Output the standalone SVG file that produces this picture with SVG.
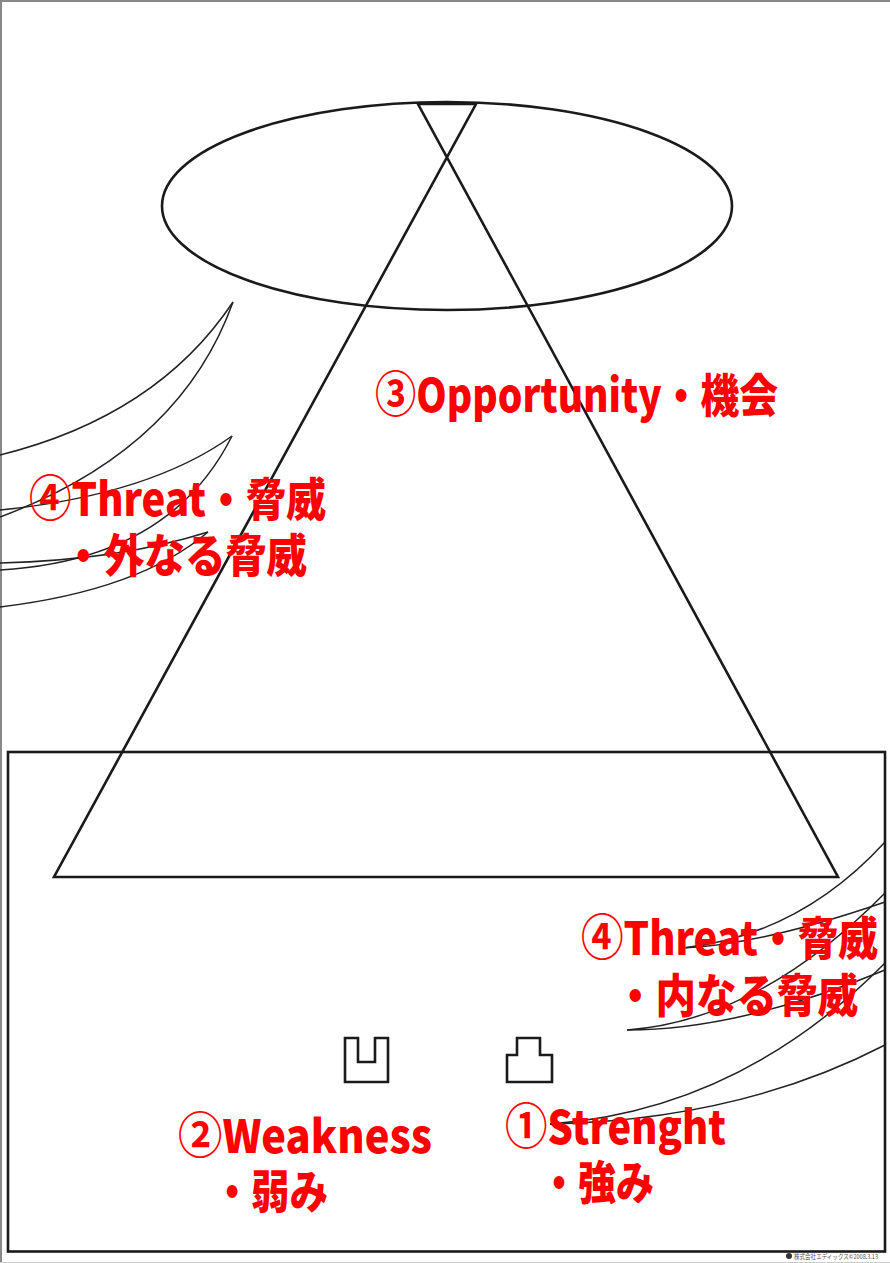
<svg xmlns="http://www.w3.org/2000/svg" width="890" height="1263" viewBox="0 0 890 1263">
  <style>
    .frame { fill: none; stroke: #1a1a1a; stroke-width: 2.6; }
    .shape { fill: none; stroke: #1a1a1a; stroke-width: 2.6; stroke-linejoin: miter; }
    .wind { fill: none; stroke: #222; stroke-width: 1.5; }
    .label { font-family: "Noto Sans CJK JP", "Noto Sans", sans-serif; font-weight: 900; font-size: 46px; fill: #ff0000; }
    .num { font-size: 49px; font-weight: 700; }
    .foot { font-family: "Noto Sans CJK JP", sans-serif; font-size: 6.5px; fill: #555; }
  </style>

  <rect x="0" y="0" width="890" height="1263" fill="#fff"/>
  <!-- page edge -->
  <rect x="0" y="0" width="2" height="1263" fill="#888"/>
  <rect x="0" y="0" width="890" height="2" fill="#888"/>
  <rect x="0" y="1262" width="890" height="1" fill="#ccc"/>

  <g id="outer-box">
    <rect class="frame" x="8" y="752" width="877" height="499.5"/>
  </g>

  <g id="sky">
    <ellipse class="shape" cx="447" cy="206" rx="285" ry="104"/>
  </g>

  <g id="pyramid">
    <path class="shape" d="M418,104 H476 L54,877 H838 Z"/>
  </g>

  <g id="weak-block">
    <path class="shape" d="M345,1038 H358 V1062 H375 V1038 H388 V1082 H345 Z"/>
  </g>
  <g id="strong-block">
    <path class="shape" d="M517,1038 H540 V1055 H552 V1082 H507 V1055 H517 Z"/>
  </g>

  <g id="connectors">
    <!-- outer wind, left -->
    <path class="wind" d="M233,302 Q157,416 0,455"/>
    <path class="wind" d="M233,302 Q180,450 0,517"/>
    <path class="wind" d="M232,436 Q150,495 0,510"/>
    <path class="wind" d="M232,436 Q170,560 0,570"/>
    <path class="wind" d="M208,532 Q120,560 0,563"/>
    <path class="wind" d="M208,532 Q140,590 0,607"/>
    <!-- inner wind, right -->
    <path class="wind" d="M885,842 Q800,935 683,948"/>
    <path class="wind" d="M885,902 Q760,945 683,948"/>
    <path class="wind" d="M885,893 Q760,1020 627,1030"/>
    <path class="wind" d="M885,970 Q740,1030 627,1030"/>
    <path class="wind" d="M885,963 Q740,1110 550,1124"/>
    <path class="wind" d="M885,1045 Q740,1120 550,1124"/>
  </g>

  <g id="opportunity">
    <text class="label" x="375" y="412" textLength="403" lengthAdjust="spacingAndGlyphs"><tspan class="num">③</tspan>Opportunity・機会</text>
  </g>
  <g id="threat-outer">
    <text class="label" x="29" y="516" textLength="297" lengthAdjust="spacingAndGlyphs"><tspan class="num">④</tspan>Threat・脅威</text>
    <text class="label" x="63" y="572" textLength="244" lengthAdjust="spacingAndGlyphs">・外なる脅威</text>
  </g>
  <g id="threat-inner">
    <text class="label" x="581" y="955" textLength="297" lengthAdjust="spacingAndGlyphs"><tspan class="num">④</tspan>Threat・脅威</text>
    <text class="label" x="615" y="1012" textLength="243" lengthAdjust="spacingAndGlyphs">・内なる脅威</text>
  </g>
  <g id="weakness">
    <text class="label" x="178" y="1153" textLength="254" lengthAdjust="spacingAndGlyphs"><tspan class="num">②</tspan>Weakness</text>
    <text class="label" x="213" y="1208" textLength="115" lengthAdjust="spacingAndGlyphs">・弱み</text>
  </g>
  <g id="strength">
    <text class="label" x="505" y="1144" textLength="221" lengthAdjust="spacingAndGlyphs"><tspan class="num">①</tspan>Strenght</text>
    <text class="label" x="540" y="1199" textLength="114" lengthAdjust="spacingAndGlyphs">・強み</text>
  </g>

  <g id="footer">
    <circle cx="789" cy="1256" r="3" fill="#333"/>
    <text class="foot" x="794" y="1258.5" textLength="84" lengthAdjust="spacingAndGlyphs">株式会社エディックス©2008.3.13</text>
  </g>
</svg>
